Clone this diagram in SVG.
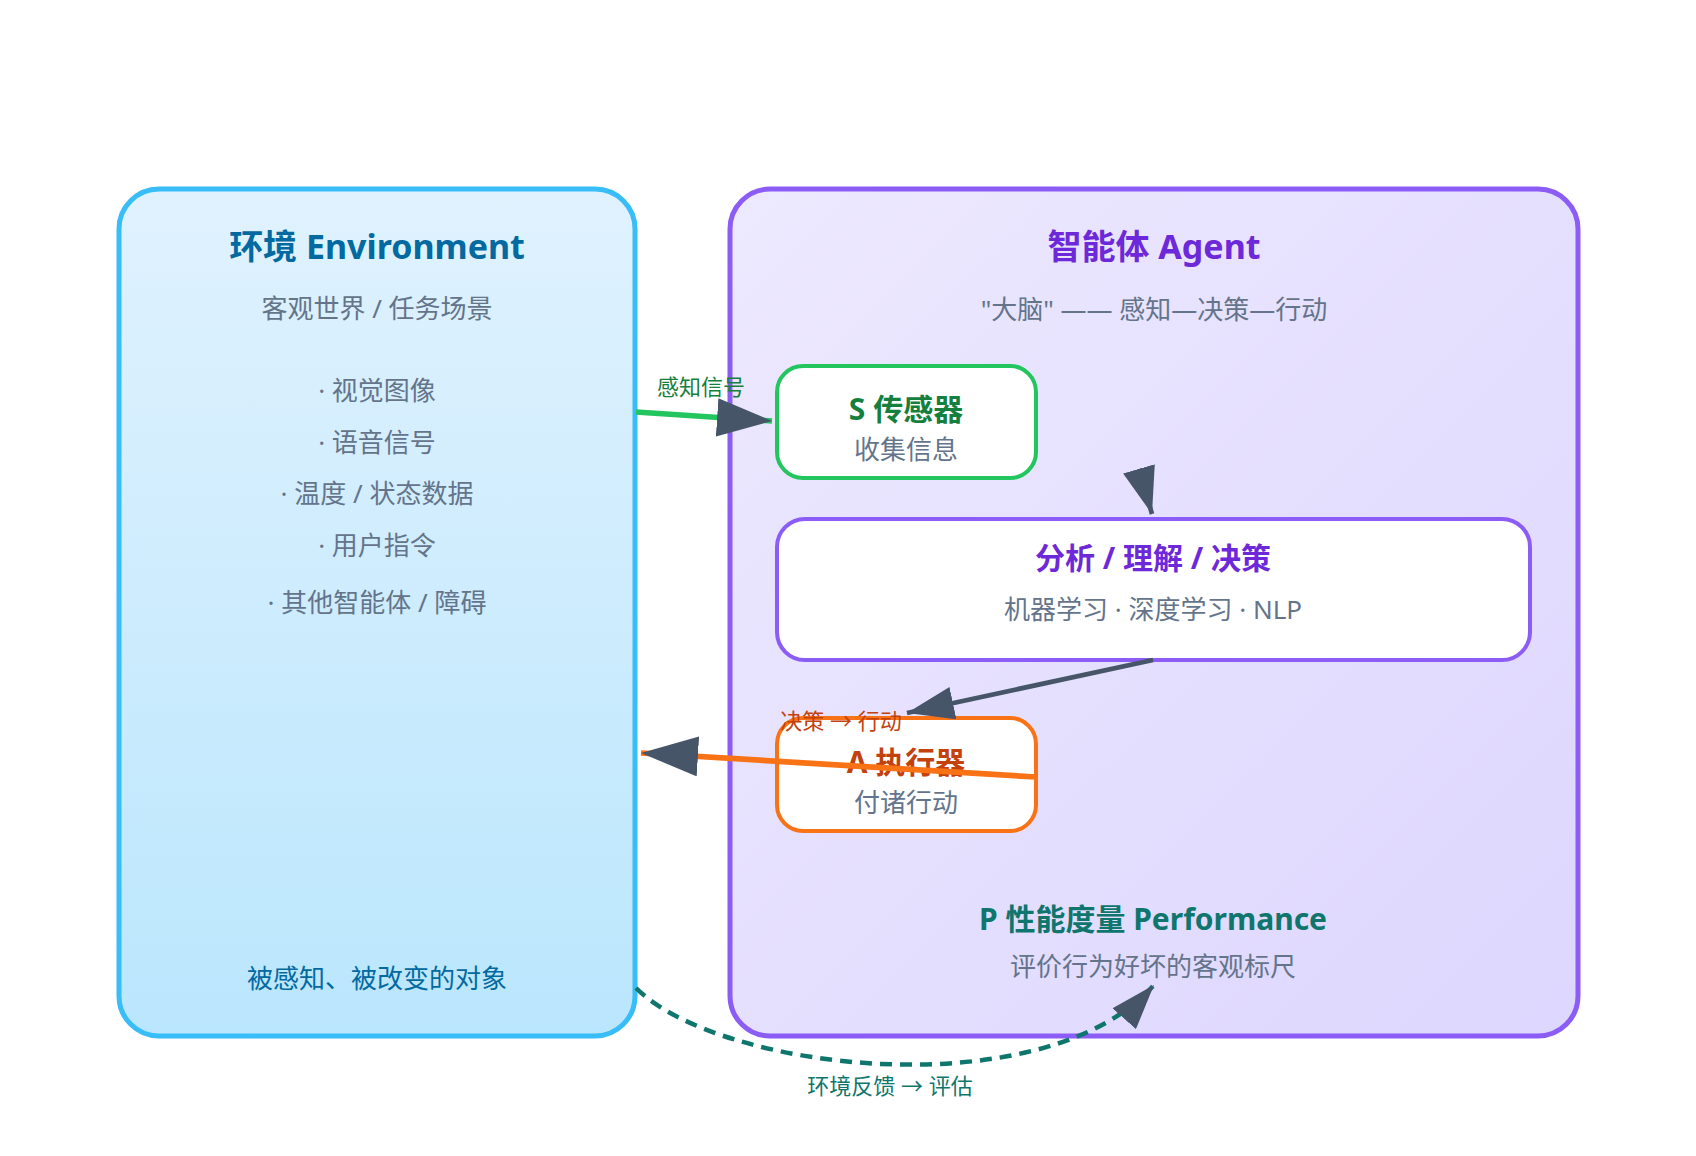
<svg xmlns="http://www.w3.org/2000/svg" width="1696" height="1156" viewBox="0 0 1696 1156">
  <defs>
    <linearGradient id="envGrad" x1="0" y1="0" x2="0" y2="1">
      <stop offset="0" stop-color="#e0f2fe"/>
      <stop offset="1" stop-color="#bae6fd"/>
    </linearGradient>
    <linearGradient id="agentGrad" x1="0" y1="0" x2="1" y2="1">
      <stop offset="0" stop-color="#ede9fe"/>
      <stop offset="1" stop-color="#ddd6fe"/>
    </linearGradient>
    <marker id="arrow" markerUnits="strokeWidth" markerWidth="10" markerHeight="7" refX="10" refY="3.5" orient="auto" viewBox="0 0 10 7">
      <path d="M0,0 L10,3.5 L0,7 z" fill="#475569"/>
    </marker>
    <style>
      text { font-family: "Noto Sans", "Noto Sans CJK SC", sans-serif; text-anchor: middle; dominant-baseline: central; }
      .title { font-size: 34px; font-weight: 700; }
      .sub { font-size: 26px; fill: #64748b; }
      .boxTitle { font-size: 30px; font-weight: 700; }
      .label { font-size: 22px; }
      .node { fill: #ffffff; stroke-width: 4; }
    </style>
  </defs>
  <rect width="1696" height="1156" fill="#ffffff"/>

  <g id="environment">
    <rect x="119" y="189" width="516" height="847" rx="40" fill="url(#envGrad)" stroke="#38bdf8" stroke-width="5"/>
    <text class="title" x="377" y="246" fill="#0369a1">环境 Environment</text>
    <text class="sub" x="377" y="308">客观世界 / 任务场景</text>
    <text class="sub" x="377" y="390">· 视觉图像</text>
    <text class="sub" x="377" y="442">· 语音信号</text>
    <text class="sub" x="377" y="493">· 温度 / 状态数据</text>
    <text class="sub" x="377" y="545">· 用户指令</text>
    <text class="sub" x="377" y="602">· 其他智能体 / 障碍</text>
    <text class="sub" x="377" y="978" style="fill:#0369a1">被感知、被改变的对象</text>
  </g>

  <g id="agent">
    <rect x="730" y="189" width="848" height="847" rx="40" fill="url(#agentGrad)" stroke="#8b5cf6" stroke-width="5"/>
    <text class="title" x="1154" y="246" fill="#6d28d9">智能体 Agent</text>
    <text class="sub" x="1154" y="309">"大脑" —— 感知—决策—行动</text>
  </g>

  <g id="sensor">
    <rect class="node" x="777" y="366" width="259" height="112" rx="26" stroke="#22c55e"/>
    <text class="boxTitle" x="906" y="408" fill="#15803d">S 传感器</text>
    <text class="sub" x="906" y="449">收集信息</text>
  </g>

  <g id="decision">
    <rect class="node" x="777" y="519" width="753" height="141" rx="28" stroke="#8b5cf6"/>
    <text class="boxTitle" x="1153" y="557" fill="#6d28d9">分析 / 理解 / 决策</text>
    <text class="sub" x="1153" y="609">机器学习 · 深度学习 · NLP</text>
  </g>

  <g id="actuator">
    <rect class="node" x="777" y="718" width="259" height="113" rx="26" stroke="#f97316"/>
    <text class="boxTitle" x="906" y="761" fill="#c2410c">A 执行器</text>
    <text class="sub" x="906" y="802">付诸行动</text>
  </g>

  <g id="performance">
    <text class="boxTitle" x="1153" y="918" fill="#0f766e">P 性能度量 Performance</text>
    <text class="sub" x="1153" y="966">评价行为好坏的客观标尺</text>
  </g>

  <g id="connectors" fill="none">
    <path d="M636,412 L772,421" stroke="#22c55e" stroke-width="5.5" marker-end="url(#arrow)"/>
    <text class="label" x="701" y="386" fill="#15803d" stroke="none">感知信号</text>
    <path d="M1139,469 L1152,514" stroke="#475569" stroke-width="4.7" marker-end="url(#arrow)"/>
    <path d="M1153,660 L907,713" stroke="#475569" stroke-width="4.7" marker-end="url(#arrow)"/>
    <path d="M1036,777 L641,753" stroke="#f97316" stroke-width="5.7" marker-end="url(#arrow)"/>
    <text class="label" x="841" y="720" fill="#c2410c" stroke="none">决策 → 行动</text>
    <path d="M636,988 C720,1072 1045,1108 1154,985" stroke="#0f766e" stroke-width="4.5" stroke-dasharray="12 8" marker-end="url(#arrow)"/>
    <text class="label" x="890" y="1085" fill="#0f766e" stroke="none">环境反馈 → 评估</text>
  </g>
</svg>
